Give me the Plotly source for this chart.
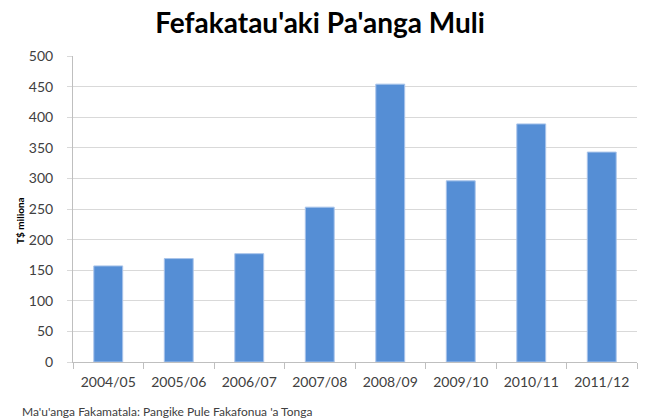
import plotly.graph_objects as go

categories = ["2004/05", "2005/06", "2006/07", "2007/08", "2008/09", "2009/10", "2010/11", "2011/12"]
values = [157, 169, 177, 253, 454, 296, 389, 343]
y_ticks = [0, 50, 100, 150, 200, 250, 300, 350, 400, 450, 500]

title_text = "Fefakatau'aki Pa'anga Muli"
y_title = "T$ miliona"
source_text = "Ma'u'anga Fakamatala: Pangike Pule Fakafonua 'a Tonga"

FONT = "Lato, 'Open Sans', sans-serif"

W, H = 649, 419
L, R, T, B = 73, 12, 56, 57
PW, PH = W - L - R, H - T - B


def px_to_paper(x, y):
    return (x - L) / PW, 1 - (y - T) / PH


fig = go.Figure(
    go.Bar(
        x=categories,
        y=values,
        marker=dict(color="#558ED5", line=dict(color="#A9C4EA", width=1)),
    )
)

sx, sy = px_to_paper(20, 411)
tx, ty = px_to_paper(20, 221)

fig.update_layout(
    width=W,
    height=H,
    margin=dict(l=L, r=R, t=T, b=B),
    paper_bgcolor="white",
    plot_bgcolor="white",
    bargap=0.59,
    showlegend=False,
    font=dict(family=FONT, color="#404040", size=14),
    title=dict(
        text="<b>" + title_text + "</b>",
        x=320 / W,
        xanchor="center",
        y=1 - 23 / H,
        yanchor="middle",
        font=dict(family=FONT, size=28, color="#000000"),
    ),
    annotations=[
        dict(
            text=source_text,
            x=sx,
            y=sy,
            xref="paper",
            yref="paper",
            xanchor="left",
            yanchor="middle",
            showarrow=False,
            font=dict(family=FONT, size=12, color="#404040"),
        ),
        dict(
            text="<b>" + y_title + "</b>",
            x=tx,
            y=ty,
            xref="paper",
            yref="paper",
            xanchor="center",
            yanchor="middle",
            textangle=-90,
            showarrow=False,
            font=dict(family=FONT, size=10, color="#000000"),
        ),
    ],
)

fig.update_xaxes(
    type="category",
    showline=True,
    linecolor="#BFBFBF",
    linewidth=1,
    ticks="outside",
    tickson="boundaries",
    ticklen=6,
    tickcolor="#BFBFBF",
    showgrid=False,
    ticklabelstandoff=7,
    tickfont=dict(family=FONT, size=14, color="#404040"),
)

fig.update_yaxes(
    range=[0, 500],
    tickvals=y_ticks,
    showline=True,
    linecolor="#BFBFBF",
    linewidth=1,
    ticks="outside",
    ticklen=5,
    tickcolor="#D9D9D9",
    showgrid=True,
    gridcolor="#D9D9D9",
    gridwidth=1,
    zeroline=False,
    ticklabelstandoff=11,
    tickfont=dict(family=FONT, size=14, color="#404040"),
)

fig.write_html(
    "out.html",
    config={"displayModeBar": False},
    post_script="document.body.style.margin='0';document.body.style.padding='0';",
)
